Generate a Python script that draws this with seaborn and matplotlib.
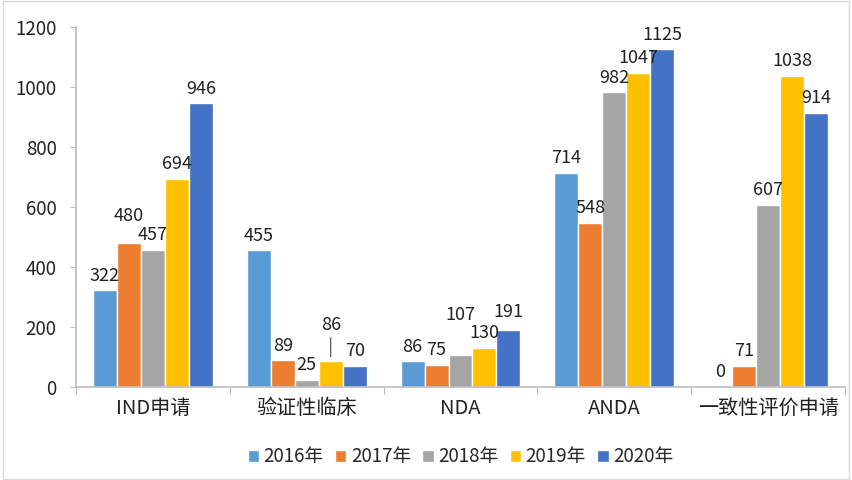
import matplotlib
matplotlib.use("Agg")
import matplotlib.pyplot as plt
import seaborn as sns
import pandas as pd
from matplotlib.patches import Rectangle

categories = ["IND申请", "验证性临床", "NDA", "ANDA", "一致性评价申请"]
years = ["2016年", "2017年", "2018年", "2019年", "2020年"]
v2016 = [322, 455, 86, 714, 0]
v2017 = [480, 89, 75, 548, 71]
v2018 = [457, 25, 107, 982, 607]
v2019 = [694, 86, 130, 1047, 1038]
v2020 = [946, 70, 191, 1125, 914]
colors = ["#5B9BD5", "#ED7D31", "#A5A5A5", "#FFC000", "#4472C4"]

series = [v2016, v2017, v2018, v2019, v2020]
rows = []
for y, vals in zip(years, series):
    for c, v in zip(categories, vals):
        rows.append({"category": c, "year": y, "value": v})
df = pd.DataFrame(rows)

sns.set_theme(style="white")
plt.rcParams["font.family"] = ["Noto Sans CJK SC", "DejaVu Sans"]

fig = plt.figure(figsize=(8.52, 4.8), dpi=100)
ax = fig.add_axes([76/852, (480-387)/480, (845-76)/852, (387-27)/480])

sns.barplot(data=df, x="category", y="value", hue="year", order=categories,
            hue_order=years, palette=colors, width=0.78, saturation=1,
            ax=ax, legend=True)

# extra label lift (in points) for crowded labels: (series index, category index)
lift = {(1, 0): 9, (2, 2): 18, (4, 2): 2}
leader = {(3, 1): 16}
for si, cont in enumerate(ax.containers):
    for ci, bar in enumerate(cont):
        h = bar.get_height()
        x = bar.get_x() + bar.get_width() / 2
        if (si, ci) in leader:
            ax.annotate(f"{int(h)}", xy=(x, h + 15), xytext=(0, leader[(si, ci)]),
                        textcoords="offset points", ha="center", va="bottom",
                        fontsize=13, color="#222222",
                        arrowprops=dict(arrowstyle="-", color="#444444", lw=0.8,
                                        shrinkA=0, shrinkB=0))
        else:
            ax.annotate(f"{int(h)}", xy=(x, h), xytext=(0, 4 + lift.get((si, ci), 0)),
                        textcoords="offset points", ha="center", va="bottom",
                        fontsize=13, color="#222222")

ax.set_ylim(0, 1200)
ax.set_xlim(-0.5, 4.5)
ax.set_yticks(range(0, 1201, 200))
ax.tick_params(axis="y", labelsize=13.5, colors="#222222", length=4, width=0.8, direction="out", left=True, pad=10)
ax.tick_params(axis="x", labelsize=14.5, colors="#222222", length=0, pad=8)
ax.set_xlabel("")
ax.set_ylabel("")
# category separators on x axis
ax.set_xticks([i + 0.5 for i in range(-1, 5)], minor=True)
ax.tick_params(axis="x", which="minor", length=5, width=0.8, color="#BBBBBB", direction="out", bottom=True)

sns.despine(ax=ax, top=True, right=True)
ax.spines["left"].set_color("#BFBFBF")
ax.spines["bottom"].set_color("#BFBFBF")
ax.tick_params(axis="y", color="#BFBFBF")

leg = ax.legend(loc="lower center", bbox_to_anchor=(0.5 - 0.0, -0.27),
                bbox_transform=ax.transAxes, ncol=5, frameon=False,
                fontsize=13.5, handlelength=0.6, handleheight=0.6,
                handletextpad=0.25, columnspacing=0.6)

fig.patches.append(Rectangle((0.003, 0.003), 0.994, 0.994, transform=fig.transFigure,
                             fill=False, edgecolor="#D9D9D9", linewidth=1))

fig.savefig("out.png", dpi=100)
